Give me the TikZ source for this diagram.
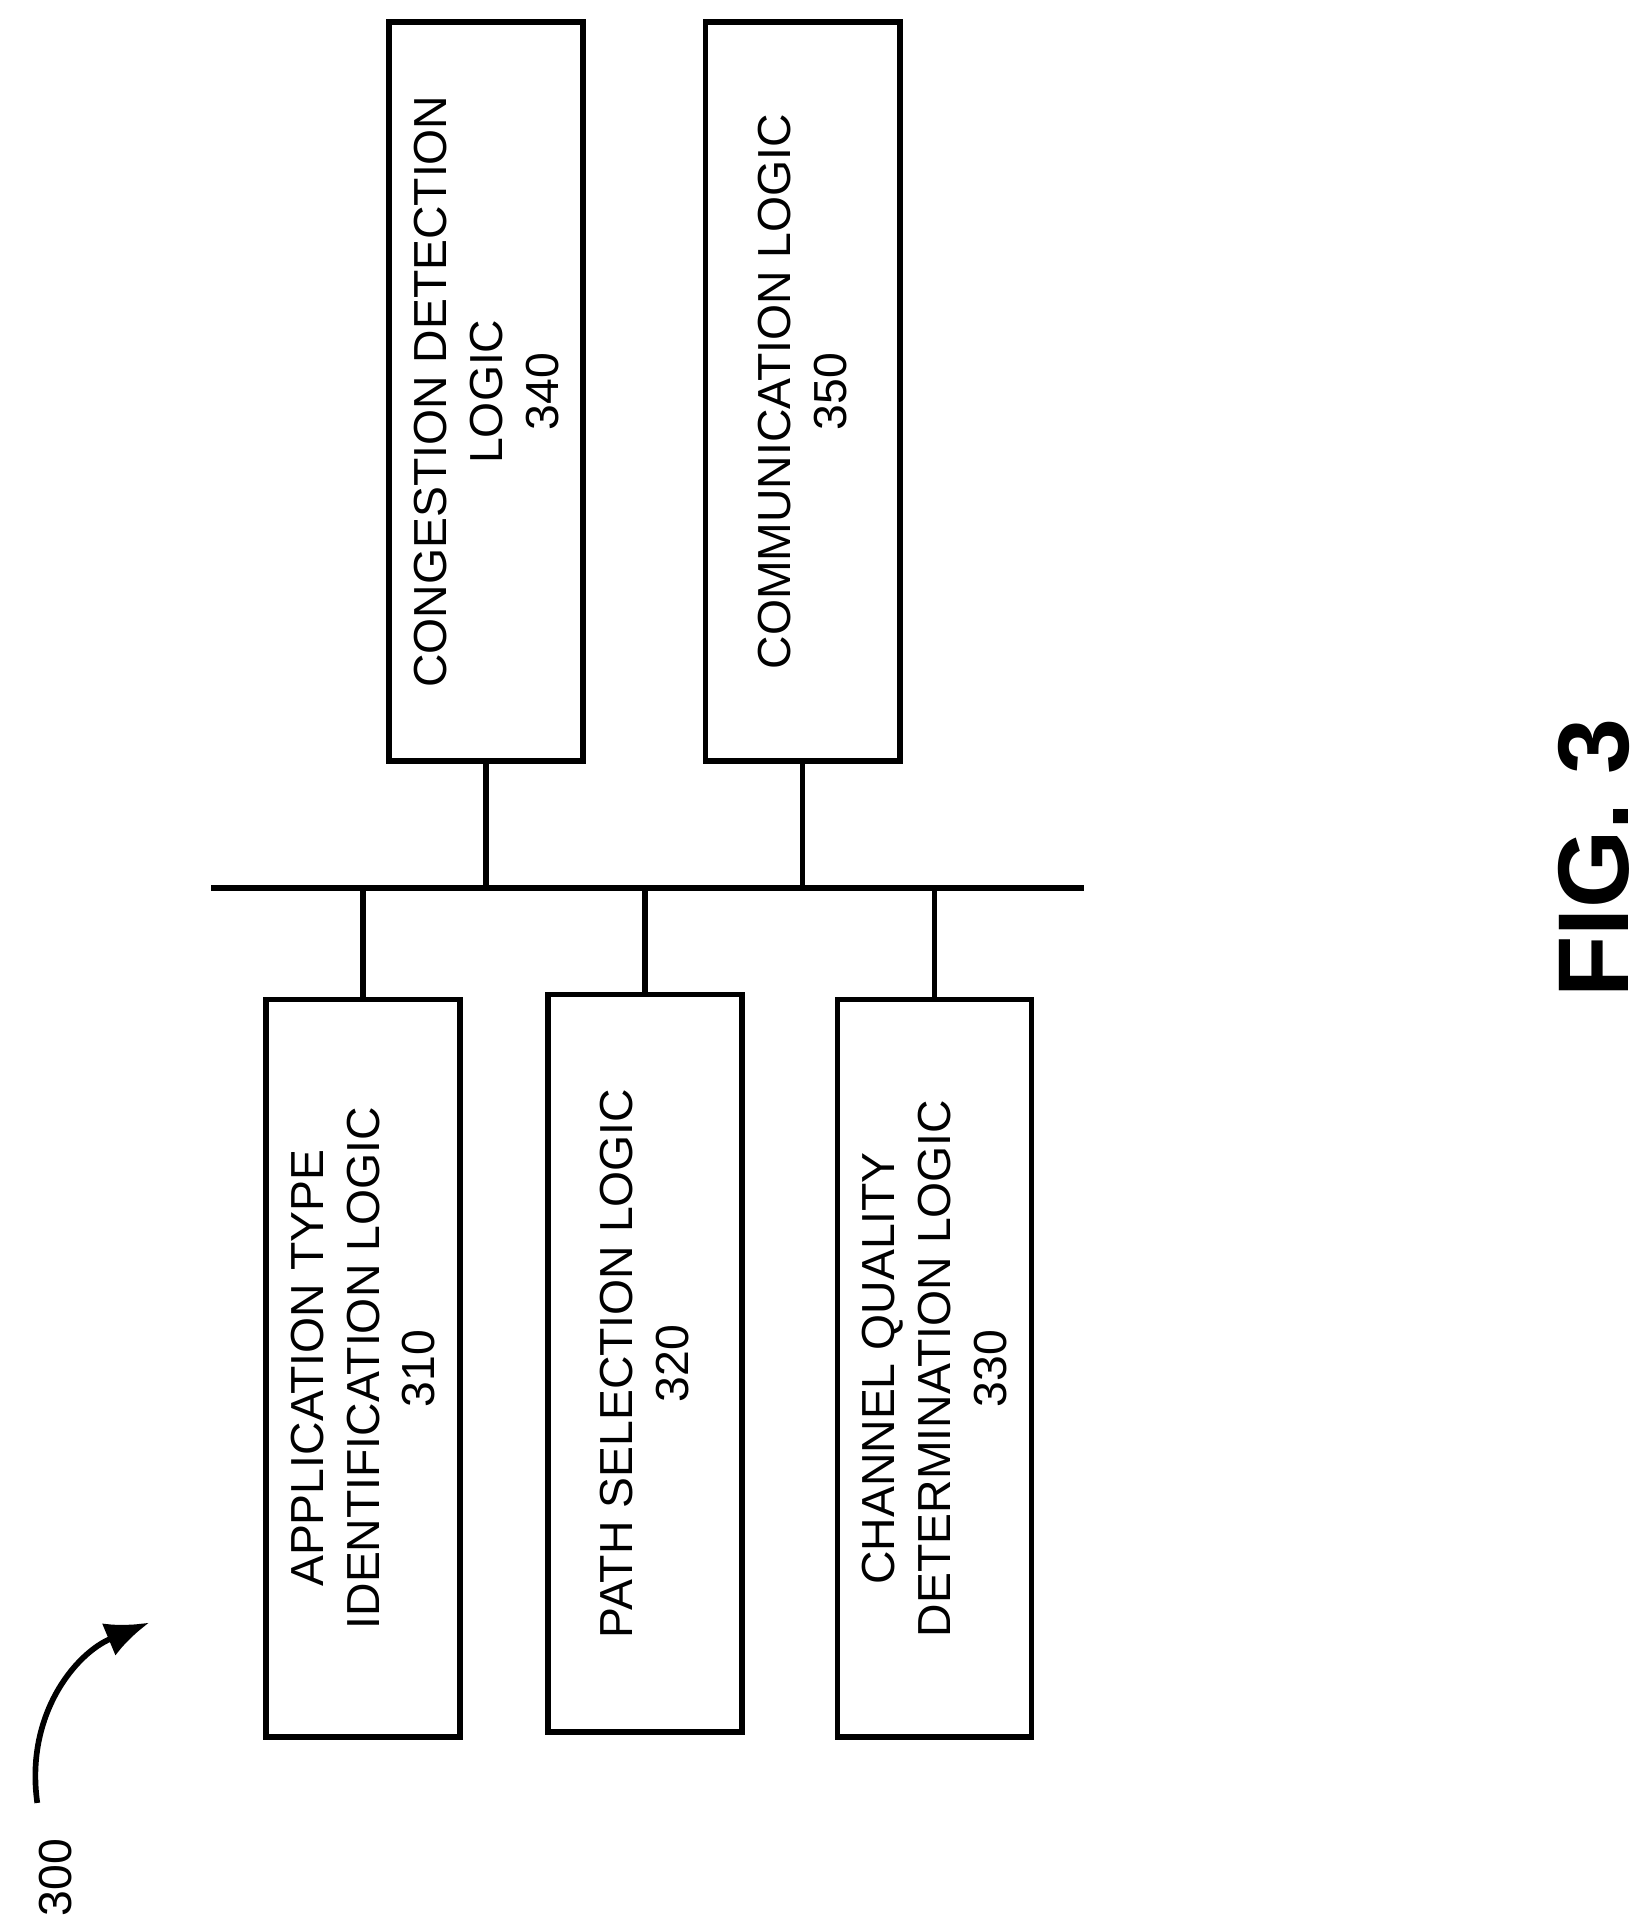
\documentclass[tikz,border=0pt]{standalone}
\usepackage{fontspec}
\setmainfont{Liberation Sans}
\usetikzlibrary{arrows.meta}
\begin{document}
\begin{tikzpicture}[x=0.01cm,y=-0.01cm,
  blk/.style={draw,line width=1.3pt,minimum width=1.56cm,inner sep=0pt},
  lbl/.style={rotate=90,align=center,font=\fontsize{10.6}{12.8}\selectfont},
  ln/.style={line width=1.3pt}]
\useasboundingbox (0,0) rectangle (1320,1549);
\node[blk,minimum height=5.94cm] (c340) at (391,315) {};
\node[blk,minimum height=5.94cm] (c350) at (645.5,315) {};
\node[blk,minimum height=5.93cm] (c310) at (292,1100.5) {};
\node[blk,minimum height=5.93cm] (c320) at (518.5,1096.5) {};
\node[blk,minimum height=5.93cm] (c330) at (751.5,1100.5) {};
\node[lbl] (t340) at (c340) {CONGESTION DETECTION\\LOGIC\\340};
\node[lbl] (t350) at (c350) {COMMUNICATION LOGIC\\350};
\node[lbl] (t310) at (c310) {APPLICATION TYPE\\IDENTIFICATION LOGIC\\310};
\node[lbl] (t320) at (c320) {PATH SELECTION LOGIC\\320};
\node[lbl] (t330) at (c330) {CHANNEL QUALITY\\DETERMINATION LOGIC\\330};
\coordinate (bl) at (170,714);
\coordinate (br) at (872,714);
\draw[ln] (bl) -- (br);
\draw[ln] (c340.south) -- (c340.south |- bl);
\draw[ln] (c350.south) -- (c350.south |- bl);
\draw[ln] (c310.north) -- (c310.north |- bl);
\draw[ln] (c320.north) -- (c320.north |- bl);
\draw[ln] (c330.north) -- (c330.north |- bl);
\node[rotate=90,font=\fontsize{23}{25}\selectfont\bfseries] (fig) at (1282,690) {FIG. 3};
\node[rotate=90,font=\fontsize{10.6}{12}\selectfont] (n300) at (45,1510) {300};
\coordinate (a0) at (30,1450);
\coordinate (a1) at (120,1305);
\draw[ln,-{Latex[length=10pt,width=8pt]}] (a0) .. controls (20,1380) and (60,1330) .. (a1);
\end{tikzpicture}
\end{document}
